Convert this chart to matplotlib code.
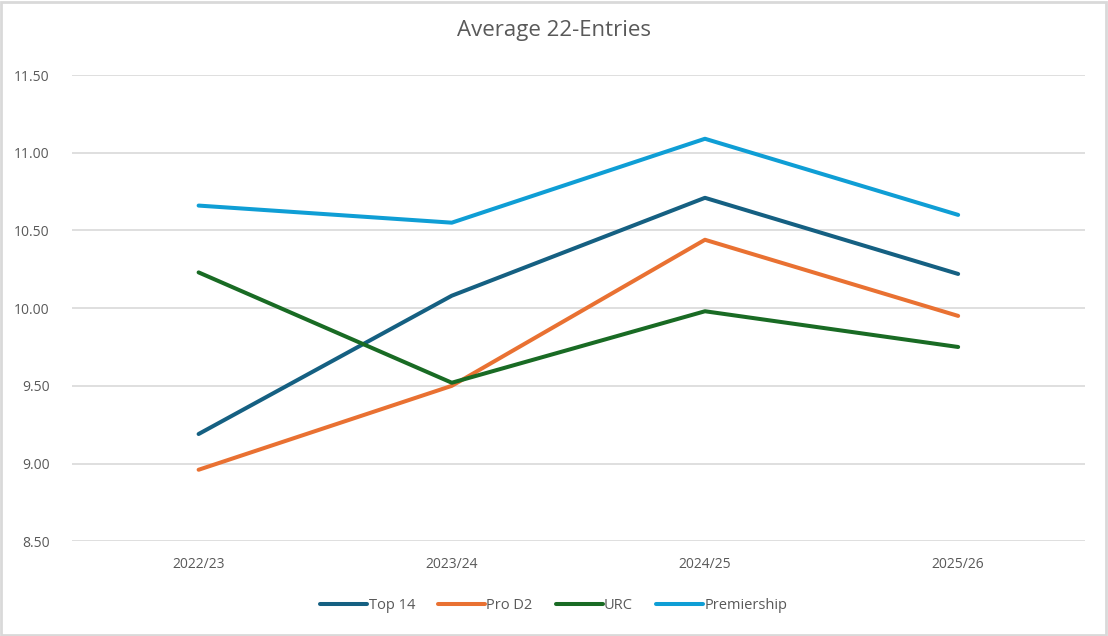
import matplotlib.pyplot as plt
from matplotlib.patches import Rectangle

seasons = ['2022/23', '2023/24', '2024/25', '2025/26']
top14 = [9.19, 10.08, 10.71, 10.22]
prod2 = [8.96, 9.50, 10.44, 9.95]
urc = [10.23, 9.52, 9.98, 9.75]
premiership = [10.66, 10.55, 11.09, 10.60]

series = [('Top 14', top14, '#156082'),
          ('Pro D2', prod2, '#E97132'),
          ('URC', urc, '#196B24'),
          ('Premiership', premiership, '#0F9ED5')]

plt.rcParams['font.family'] = ['Open Sans', 'DejaVu Sans']
grey = '#595959'

fig = plt.figure(figsize=(11.08, 6.36), dpi=100)
ax = fig.add_axes([0.065, 0.149, 0.914, 0.733])

x = range(len(seasons))
for name, vals, col in series:
    ax.plot(x, vals, color=col, lw=2.9, label=name, solid_capstyle='round', solid_joinstyle='round')

ax.set_xlim(-0.5, 3.5)
ax.set_ylim(8.5, 11.5)
ax.set_yticks([8.5, 9.0, 9.5, 10.0, 10.5, 11.0, 11.5])
ax.set_yticklabels(['%.2f' % v for v in ax.get_yticks()])
ax.set_xticks(list(x))
ax.set_xticklabels(seasons)
ax.tick_params(length=0, colors=grey, labelsize=10)
ax.tick_params(axis='x', pad=11)
ax.tick_params(axis='y', pad=16)
ax.grid(axis='y', color='#D9D9D9', lw=1.2)
ax.set_axisbelow(True)
for s in ax.spines.values():
    s.set_visible(False)

fig.suptitle('Average 22-Entries', y=0.968, fontsize=16, color=grey)
leg = fig.legend(loc='center', bbox_to_anchor=(0.5, 0.048), ncol=4, frameon=False,
                 fontsize=10.5, handlelength=3.2, handletextpad=0.1, columnspacing=1.6)
for t in leg.get_texts():
    t.set_color(grey)

fig.patches.append(Rectangle((0.001, 0.002), 0.997, 0.995, transform=fig.transFigure,
                             fill=False, edgecolor='#D9D9D9', lw=2))
fig.savefig('out.png', dpi=100)
